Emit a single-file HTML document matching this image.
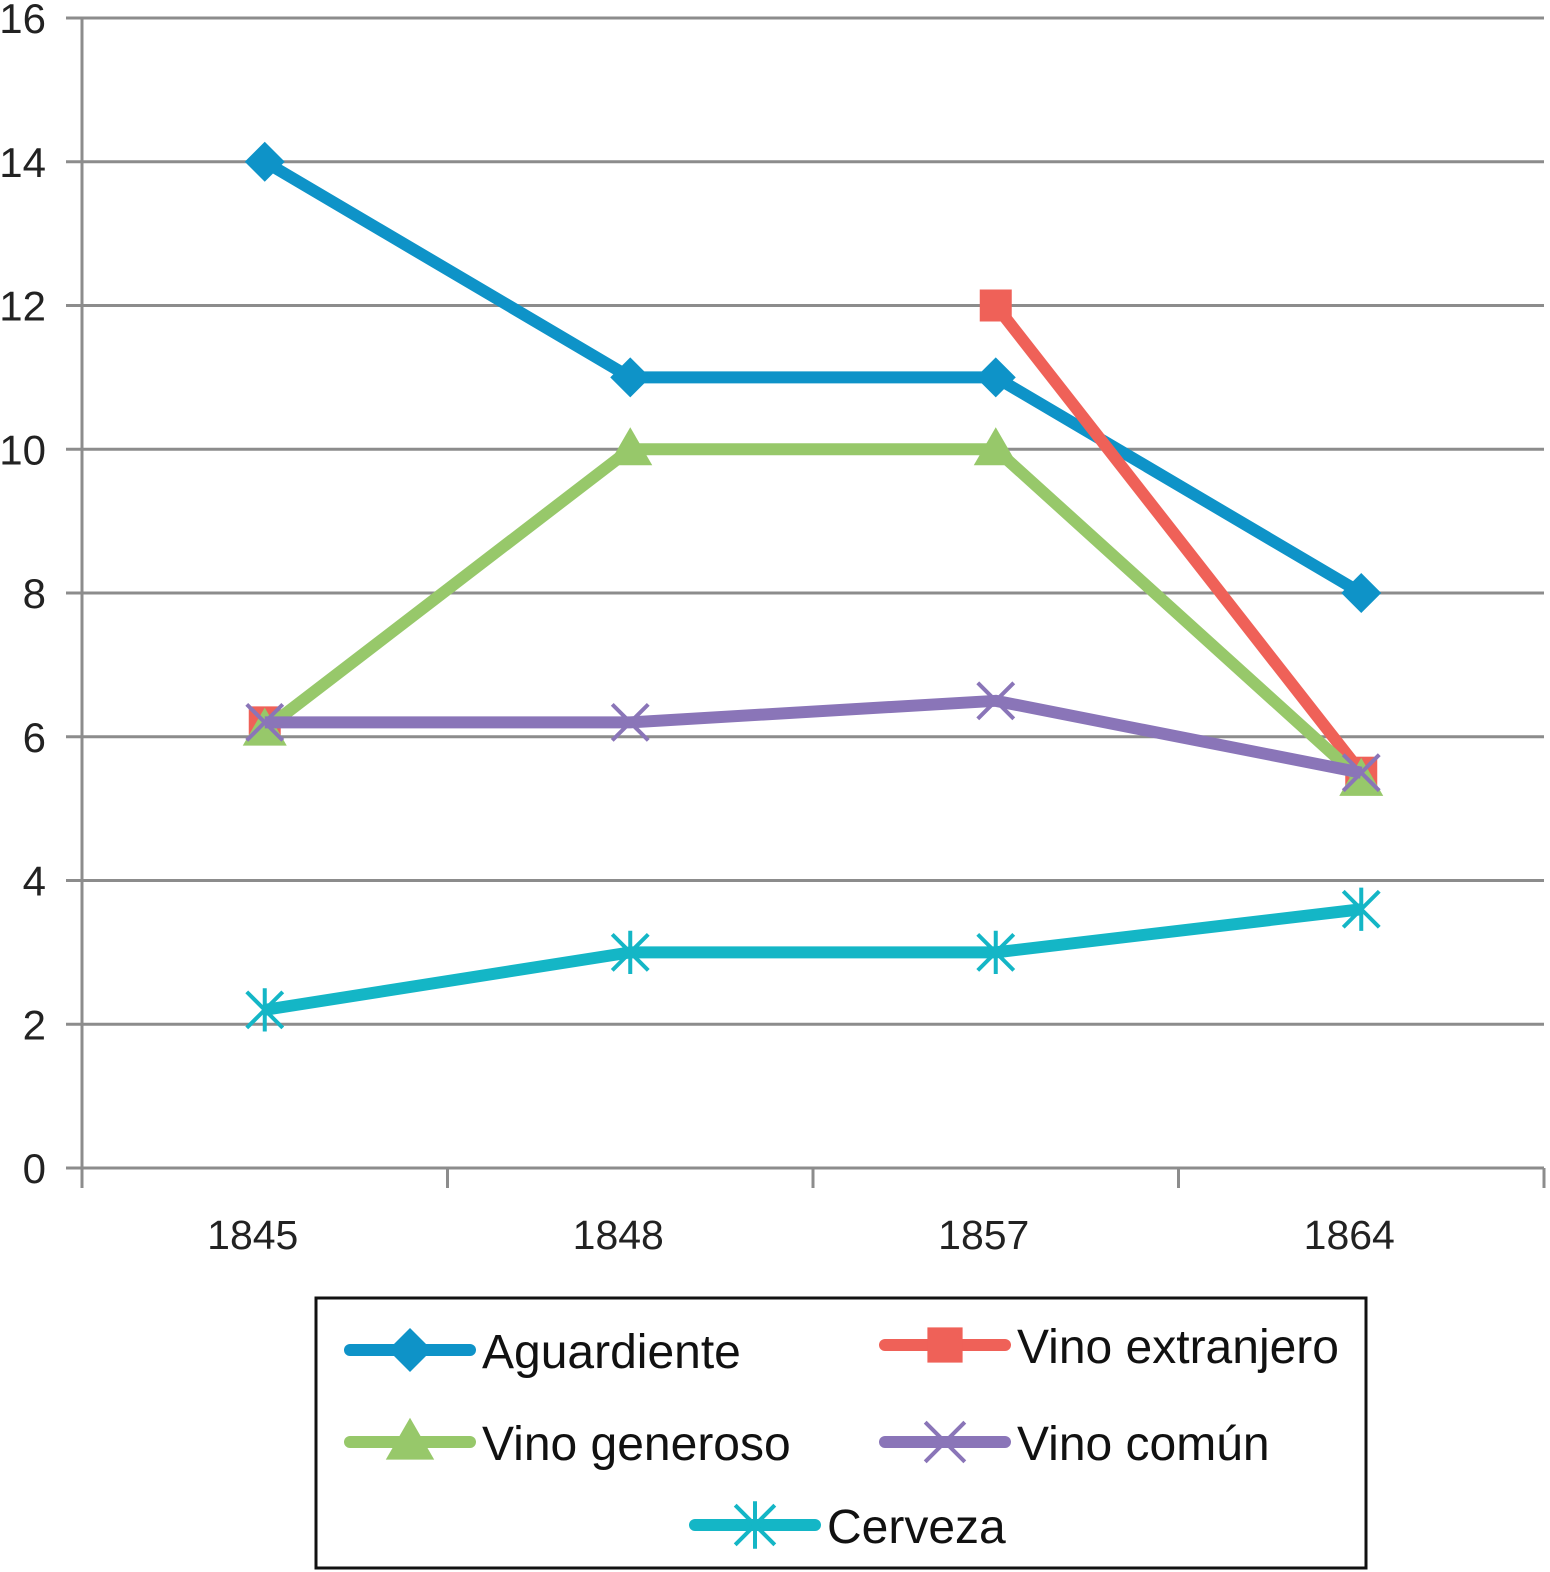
<!DOCTYPE html>
<html><head><meta charset="utf-8"><style>
html,body{margin:0;padding:0;background:#fff;}
svg{display:block;font-family:"Liberation Sans",sans-serif;}
</style></head><body>
<svg id="chart" width="1550" height="1572" viewBox="0 0 1550 1572">
<g id="grid"></g>
<g id="axes"></g>
<g id="series"></g>
<g id="legend"></g>
</svg>
<script>
const categories = ["1845","1848","1857","1864"];
const yTicks = [0,2,4,6,8,10,12,14,16];
const aguardiente = [14,11,11,8];
const vinoExtranjero = [6.2,null,12,5.5];
const vinoGeneroso = [6.1,10,10,5.4];
const vinoComun = [6.2,6.2,6.5,5.5];
const cerveza = [2.2,3,3,3.6];
const seriesNames = ["Aguardiente","Vino extranjero","Vino generoso","Vino común","Cerveza"];

const NS="http://www.w3.org/2000/svg";
const X0=82,X1=1544,Y0=1168,Y1=18,YMAX=16;
const band=(X1-X0)/categories.length;
function x(i){return X0+band*(i+0.5);}
function y(v){return Y0-(v/YMAX)*(Y0-Y1);}
function mk(tag,attrs,parent){const e=document.createElementNS(NS,tag);for(const k in attrs)e.setAttribute(k,attrs[k]);parent.appendChild(e);return e;}
const grid=document.getElementById('grid'),axes=document.getElementById('axes'),ser=document.getElementById('series'),leg=document.getElementById('legend');

yTicks.forEach(t=>{
  if(t>0){const l=mk('line',{x1:X0,x2:X1,y1:y(t),y2:y(t),stroke:'#8c8c8c','stroke-width':3},grid);
  
  }
  const tk=mk('line',{x1:66,x2:X0,y1:y(t),y2:y(t),stroke:'#8c8c8c','stroke-width':3},axes);
  
  
  const tx=mk('text',{x:46,y:y(t)+15,'text-anchor':'end','font-size':42,fill:'#222'},axes);
  tx.textContent=t;
  
  
});
const ya=mk('line',{x1:X0,x2:X0,y1:Y1,y2:Y0+20,stroke:'#8c8c8c','stroke-width':3},axes);


const xa=mk('line',{x1:X0,x2:X1,y1:Y0,y2:Y0,stroke:'#8c8c8c','stroke-width':3},axes);


for(let i=0;i<=categories.length;i++){
  const t=mk('line',{x1:X0+band*i,x2:X0+band*i,y1:Y0,y2:Y0+20,stroke:'#8c8c8c','stroke-width':3},axes);
  
  
}
categories.forEach((c,i)=>{
  const t=mk('text',{x:x(i)-12,y:1249,'text-anchor':'middle','font-size':41,fill:'#222'},axes);
  t.textContent=c;
  
  
});

function marker(kind,cx,cy,color,parent,s){
  s=s||1;let e;
  if(kind==='diamond'){e=mk('polygon',{points:`${cx},${cy-20*s} ${cx+20*s},${cy} ${cx},${cy+20*s} ${cx-20*s},${cy}`,fill:color},parent);}
  else if(kind==='square'){e=mk('rect',{x:cx-16*s,y:cy-16*s,width:32*s,height:32*s,fill:color},parent);}
  else if(kind==='triangle'){e=mk('polygon',{points:`${cx},${cy-22*s} ${cx+22*s},${cy+16*s} ${cx-22*s},${cy+16*s}`,fill:color},parent);}
  else if(kind==='x'){const r=18*s;e=mk('path',{d:`M${cx-r},${cy-r}L${cx+r},${cy+r}M${cx-r},${cy+r}L${cx+r},${cy-r}`,stroke:color,'stroke-width':4,fill:'none'},parent);}
  else {const r=18*s;e=mk('path',{d:`M${cx-r},${cy-r}L${cx+r},${cy+r}M${cx-r},${cy+r}L${cx+r},${cy-r}M${cx},${cy-r*1.2}L${cx},${cy+r*1.2}`,stroke:color,'stroke-width':4,fill:'none'},parent);}
  return e;
}
const defs=[
 {name:'aguardiente',data:aguardiente,color:'#0e93c8',m:'diamond'},
 {name:'vino-extranjero',data:vinoExtranjero,color:'#ef6158',m:'square'},
 {name:'vino-generoso',data:vinoGeneroso,color:'#97c86a',m:'triangle'},
 {name:'vino-comun',data:vinoComun,color:'#8a75b8',m:'x'},
 {name:'cerveza',data:cerveza,color:'#14b6c6',m:'star'}
];
defs.forEach(d=>{
  const g=mk('g',{},ser);
  
  
  let path='',pen=false;
  d.data.forEach((v,i)=>{if(v===null){pen=false;return;}path+=(pen?'L':'M')+x(i)+','+y(v);pen=true;});
  const p=mk('path',{d:path,stroke:d.color,'stroke-width':12,fill:'none','stroke-linejoin':'round'},g);
  
  
  d.data.forEach((v,i)=>{if(v===null)return;
    const m=marker(d.m,x(i),y(v),d.color,g);
    
    });
});

const box=mk('rect',{x:316,y:1298,width:1050,height:270,fill:'#fff',stroke:'#111','stroke-width':3},leg);


const lpos=[[350,1350],[885,1345],[350,1442],[885,1442],[695,1525]];
defs.forEach((d,i)=>{
  const [lx,ly]=lpos[i];
  const g=mk('g',{},leg);
  
  
  mk('line',{x1:lx,x2:lx+120,y1:ly,y2:ly,stroke:d.color,'stroke-width':12,'stroke-linecap':'round'},g);
  marker(d.m,lx+60,ly,d.color,g,1.1);
  const t=mk('text',{x:lx+132,y:ly+18,'font-size':48,fill:'#111'},g);
  t.textContent=seriesNames[i];
});
</script>
</body></html>
